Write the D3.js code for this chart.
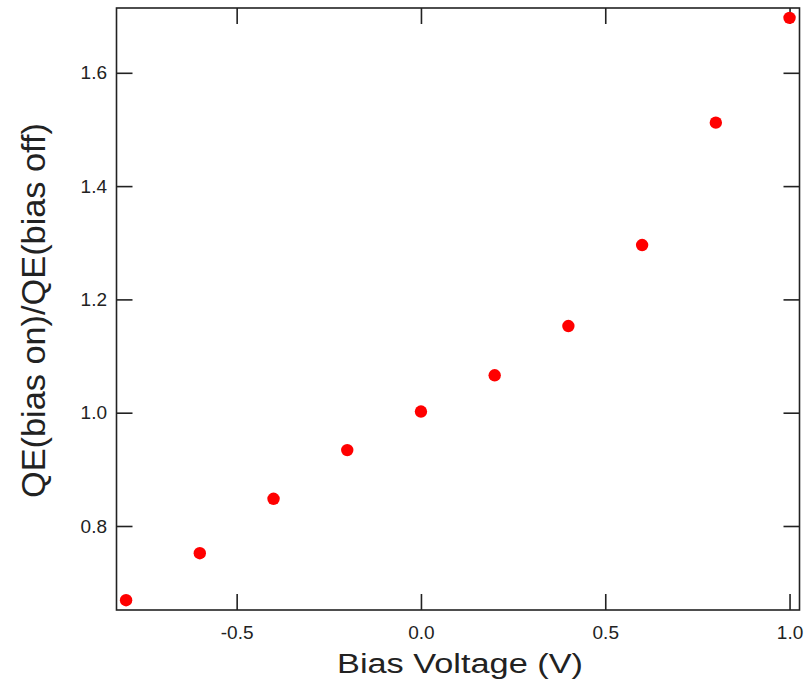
<!DOCTYPE html>
<html><head><meta charset="utf-8">
<script src="https://cdn.jsdelivr.net/npm/d3@7"></script>
<style>body{margin:0;background:#fff}svg{display:block}text{font-family:"Liberation Sans",Arial,sans-serif;fill:#222}</style>
</head><body><svg id="c" width="807" height="688"></svg>
<script>
const biasVoltage = [-0.8, -0.6, -0.4, -0.2, 0.0, 0.2, 0.4, 0.6, 0.8, 1.0];
const qeRatio = [0.669, 0.752, 0.848, 0.934, 1.002, 1.066, 1.153, 1.296, 1.512, 1.697];
const xTicks = [-0.5, 0.0, 0.5, 1.0];
const yTicks = [0.8, 1.0, 1.2, 1.4, 1.6];
const xDomain = [-0.826, 1.027];
const yDomain = [0.6517, 1.7144];

const svg = d3.select("#c");
const L = 116.5, R = 799.5, T = 8, B = 610;
const x = d3.scaleLinear().domain(xDomain).range([L, R]);
const y = d3.scaleLinear().domain(yDomain).range([B, T]);
const tick = 16, col = "#222", sw = 1.6;
const fmt = d => d3.format(".1f")(d).replace("\u2212", "-");

const gB = svg.append("g").attr("transform", `translate(0,${B})`)
  .call(d3.axisBottom(x).tickValues(xTicks).tickFormat(fmt).tickSizeInner(-tick).tickSizeOuter(0));
const gT = svg.append("g").attr("transform", `translate(0,${T})`)
  .call(d3.axisTop(x).tickValues(xTicks).tickFormat("").tickSizeInner(-tick).tickSizeOuter(0));
const gL = svg.append("g").attr("transform", `translate(${L},0)`)
  .call(d3.axisLeft(y).tickValues(yTicks).tickFormat(fmt).tickSizeInner(-tick).tickSizeOuter(0).tickPadding(10));
const gR = svg.append("g").attr("transform", `translate(${R},0)`)
  .call(d3.axisRight(y).tickValues(yTicks).tickFormat("").tickSizeInner(-tick).tickSizeOuter(0));
[gB, gT, gL, gR].forEach(g => {
  g.select(".domain").remove();
  g.selectAll(".tick line").attr("stroke", col).attr("stroke-width", sw);
  g.selectAll(".tick text").attr("font-size", 19).attr("fill", "#222")
   .attr("font-family", '"Liberation Sans",Arial,sans-serif');
});
gB.selectAll(".tick text").attr("dy", null).attr("y", 29);
gL.selectAll(".tick text").attr("x", -9.5);

svg.append("rect").attr("x", L).attr("y", T).attr("width", R - L).attr("height", B - T)
  .attr("fill", "none").attr("stroke", col).attr("stroke-width", sw);

svg.append("g").selectAll("circle").data(biasVoltage).join("circle")
  .attr("cx", d => x(d)).attr("cy", (d, i) => y(qeRatio[i])).attr("r", 6.2).attr("fill", "#ff0000");

svg.append("text").attr("x", 460).attr("y", 673).attr("text-anchor", "middle")
  .attr("font-size", 27).attr("textLength", 246).attr("lengthAdjust", "spacingAndGlyphs")
  .text("Bias Voltage (V)");
svg.append("text").attr("transform", `translate(45,310.5) rotate(-90)`).attr("text-anchor", "middle")
  .attr("font-size", 33).attr("textLength", 375).attr("lengthAdjust", "spacingAndGlyphs")
  .text("QE(bias on)/QE(bias off)");
</script></body></html>
